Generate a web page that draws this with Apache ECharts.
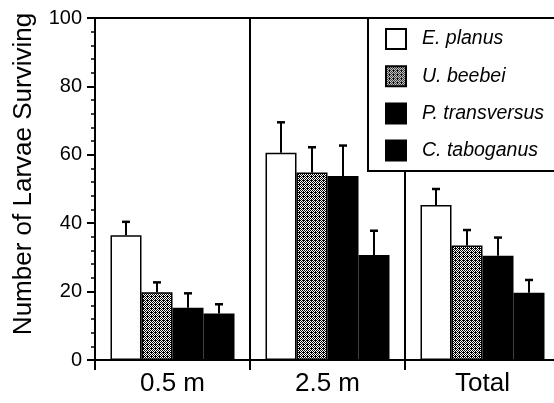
<!DOCTYPE html>
<html>
<head>
<meta charset="utf-8">
<script src="https://cdn.jsdelivr.net/npm/echarts@6/dist/echarts.min.js"></script>
<style>
html,body{margin:0;padding:0;background:#fff;overflow:hidden;}
#chart{width:560px;height:403px;}
</style>
</head>
<body>
<div id="chart"></div>
<script>
// ---- data ----
const categories = ['0.5 m', '2.5 m', 'Total'];
const speciesNames = ['E. planus', 'U. beebei', 'P. transversus', 'C. taboganus'];
const ePlanus = [36.5, 60.6, 45.3];
const uBeebei = [19.8, 54.8, 33.5];
const pTransversus = [15.3, 53.8, 30.5];
const cTaboganus = [13.6, 30.7, 19.7];
// upper end of error bars
const ePlanusErr = [40.4, 69.5, 50.0];
const uBeebeiErr = [22.7, 62.2, 38.0];
const pTransversusErr = [19.5, 62.7, 35.8];
const cTaboganusErr = [16.3, 37.8, 23.4];
const yTicks = [0, 20, 40, 60, 80, 100];

const values = [ePlanus, uBeebei, pTransversus, cTaboganus];
const errs = [ePlanusErr, uBeebeiErr, pTransversusErr, cTaboganusErr];

// stipple pattern for U. beebei
const pat = document.createElement('canvas');
pat.width = 4; pat.height = 4;
(function(){
  const c = pat.getContext('2d');
  c.fillStyle = '#ffffff'; c.fillRect(0,0,4,4);
  c.fillStyle = '#000000';
  const dots = [[0,0],[2,0],[1,1],[3,1],[0,2],[2,2],[1,3],[3,3],[3,0]];
  dots.forEach(d => c.fillRect(d[0], d[1], 1, 1));
})();

const fills = ['#ffffff', {image: pat, repeat: 'repeat'}, '#000000', '#000000'];
const GAP = 0.2;

const chart = echarts.init(document.getElementById('chart'), null, {renderer: 'canvas'});

const barSeries = speciesNames.map((n, i) => ({
  name: n,
  type: 'bar',
  data: values[i],
  barGap: '0%',
  barCategoryGap: (GAP * 100) + '%',
  itemStyle: {color: fills[i], borderColor: '#000', borderWidth: 1.5},
  emphasis: {disabled: true},
  z: 2
}));

const errData = [];
for (let s = 0; s < 4; s++) {
  for (let c = 0; c < categories.length; c++) {
    errData.push([c, s, values[s][c], errs[s][c]]);
  }
}

const errSeries = {
  name: 'err',
  type: 'custom',
  data: errData,
  z: 3,
  renderItem: function (params, api) {
    const c = api.value(0), s = api.value(1);
    const band = api.size([1, 0])[0];
    const barW = band * (1 - GAP) / 4;
    const cx = api.coord([c, 0])[0] - 2 * barW + barW * (s + 0.5);
    const yb = api.coord([c, api.value(2)])[1];
    const yt = api.coord([c, api.value(3)])[1];
    const st = {stroke: '#000', lineWidth: 2};
    return {
      type: 'group',
      children: [
        {type: 'line', shape: {x1: cx, y1: yb, x2: cx, y2: yt}, style: st},
        {type: 'line', shape: {x1: cx - 4, y1: yt, x2: cx + 4, y2: yt}, style: {stroke: '#000', lineWidth: 2.5}}
      ]
    };
  }
};

const option = {
  animation: false,
  backgroundColor: '#ffffff',
  textStyle: {fontFamily: 'Liberation Sans, Arial, sans-serif', color: '#000'},
  grid: {left: 95, top: 18, right: 0, bottom: 43, show: true, borderColor: '#000', borderWidth: 2, backgroundColor: 'transparent'},
  legend: {
    data: speciesNames,
    orient: 'vertical',
    left: 380, top: 23,
    itemWidth: 20, itemHeight: 20, itemGap: 15.2,
    icon: 'rect',
    selectedMode: false,
    z: 10,
    textStyle: {fontSize: 19.5, fontStyle: 'italic', color: '#000', fontFamily: 'Liberation Sans, Arial, sans-serif', padding: [0, 0, 0, 11]}
  },
  graphic: [
    {type: 'rect', z: 8, shape: {x: 368, y: 18, width: 200, height: 153}, style: {fill: '#fff', stroke: '#000', lineWidth: 2}},
    {type: 'text', z: 8, x: 24, y: 174, rotation: Math.PI / 2,
     style: {text: 'Number of Larvae Surviving', font: '26px "Liberation Sans", Arial, sans-serif', fill: '#000', textAlign: 'center', textVerticalAlign: 'middle'}}
  ],
  xAxis: {
    type: 'category',
    data: categories,
    axisLine: {lineStyle: {color: '#000', width: 2}},
    axisTick: {show: true, length: 10, lineStyle: {color: '#000', width: 2}},
    axisLabel: {fontSize: 26, color: '#000', margin: 11, fontFamily: 'Liberation Sans, Arial, sans-serif'},
    splitLine: {show: true, lineStyle: {color: '#000', width: 2}}
  },
  yAxis: {
    type: 'value',
    min: yTicks[0], max: yTicks[yTicks.length - 1], interval: yTicks[1] - yTicks[0],
    axisLine: {show: true, lineStyle: {color: '#000', width: 2}},
    axisTick: {show: true, length: 8, lineStyle: {color: '#000', width: 2}},
    minorTick: {show: true, splitNumber: 5, length: 4, lineStyle: {color: '#000', width: 1.5}},
    axisLabel: {fontSize: 20, color: '#000', margin: 13, fontFamily: 'Liberation Sans, Arial, sans-serif'},
    splitLine: {show: false}
  },
  series: barSeries.concat([errSeries])
};

chart.setOption(option);
</script>
</body>
</html>
